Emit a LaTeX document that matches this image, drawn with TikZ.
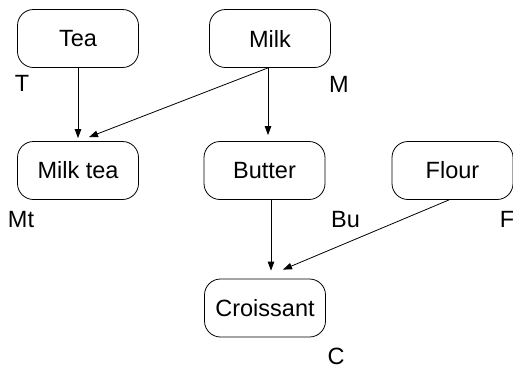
\documentclass[tikz,border=0pt]{standalone}
\usepackage{fontspec}
\setmainfont{Liberation Sans}
\usetikzlibrary{arrows.meta}
\begin{document}
\begin{tikzpicture}[x=1pt,y=-1pt,
  box/.style={draw, line width=0.8pt, rounded corners=16pt, minimum width=121pt, minimum height=58pt, inner sep=0pt, font=\fontsize{23.5}{28}\selectfont},
  lbl/.style={inner sep=0pt, font=\fontsize{23.5}{28}\selectfont},
  conn/.style={line width=0.8pt, -{Triangle[length=9pt,width=6.5pt]}}]
\useasboundingbox (0,0) rectangle (513,368);
\node[box] (tea) at (78,38.5) {Tea};
\node[box] (milk) at (270,38.5) {Milk};
\node[box] (milktea) at (78,170.5) {Milk tea};
\node[box] (butter) at (264.5,170.5) {Butter};
\node[box] (flour) at (452.5,170.5) {Flour};
\node[box] (croissant) at (265,308) {Croissant};
\node[lbl] (lT) at (22,83.5) {T};
\node[lbl] (lM) at (339,84) {M};
\node[lbl] (lMt) at (21,219) {Mt};
\node[lbl] (lBu) at (345.5,219.5) {Bu};
\node[lbl] (lF) at (507,219.5) {F};
\node[lbl] (lC) at (336,356) {C};
\draw[conn] (tea.south) -- ([yshift=3pt]milktea.north);
\draw[conn] ([xshift=-2pt]milk.south) -- ([xshift=11pt,yshift=4pt]milktea.north);
\draw[conn] ([xshift=-2pt]milk.south) -- ([xshift=3.5pt,yshift=6pt]butter.north);
\draw[conn] ([xshift=6.5pt]butter.south) -- ([xshift=6pt,yshift=8pt]croissant.north);
\draw[conn] ([xshift=-3.5pt]flour.south) -- ([xshift=18pt,yshift=9pt]croissant.north);
\end{tikzpicture}
\end{document}
